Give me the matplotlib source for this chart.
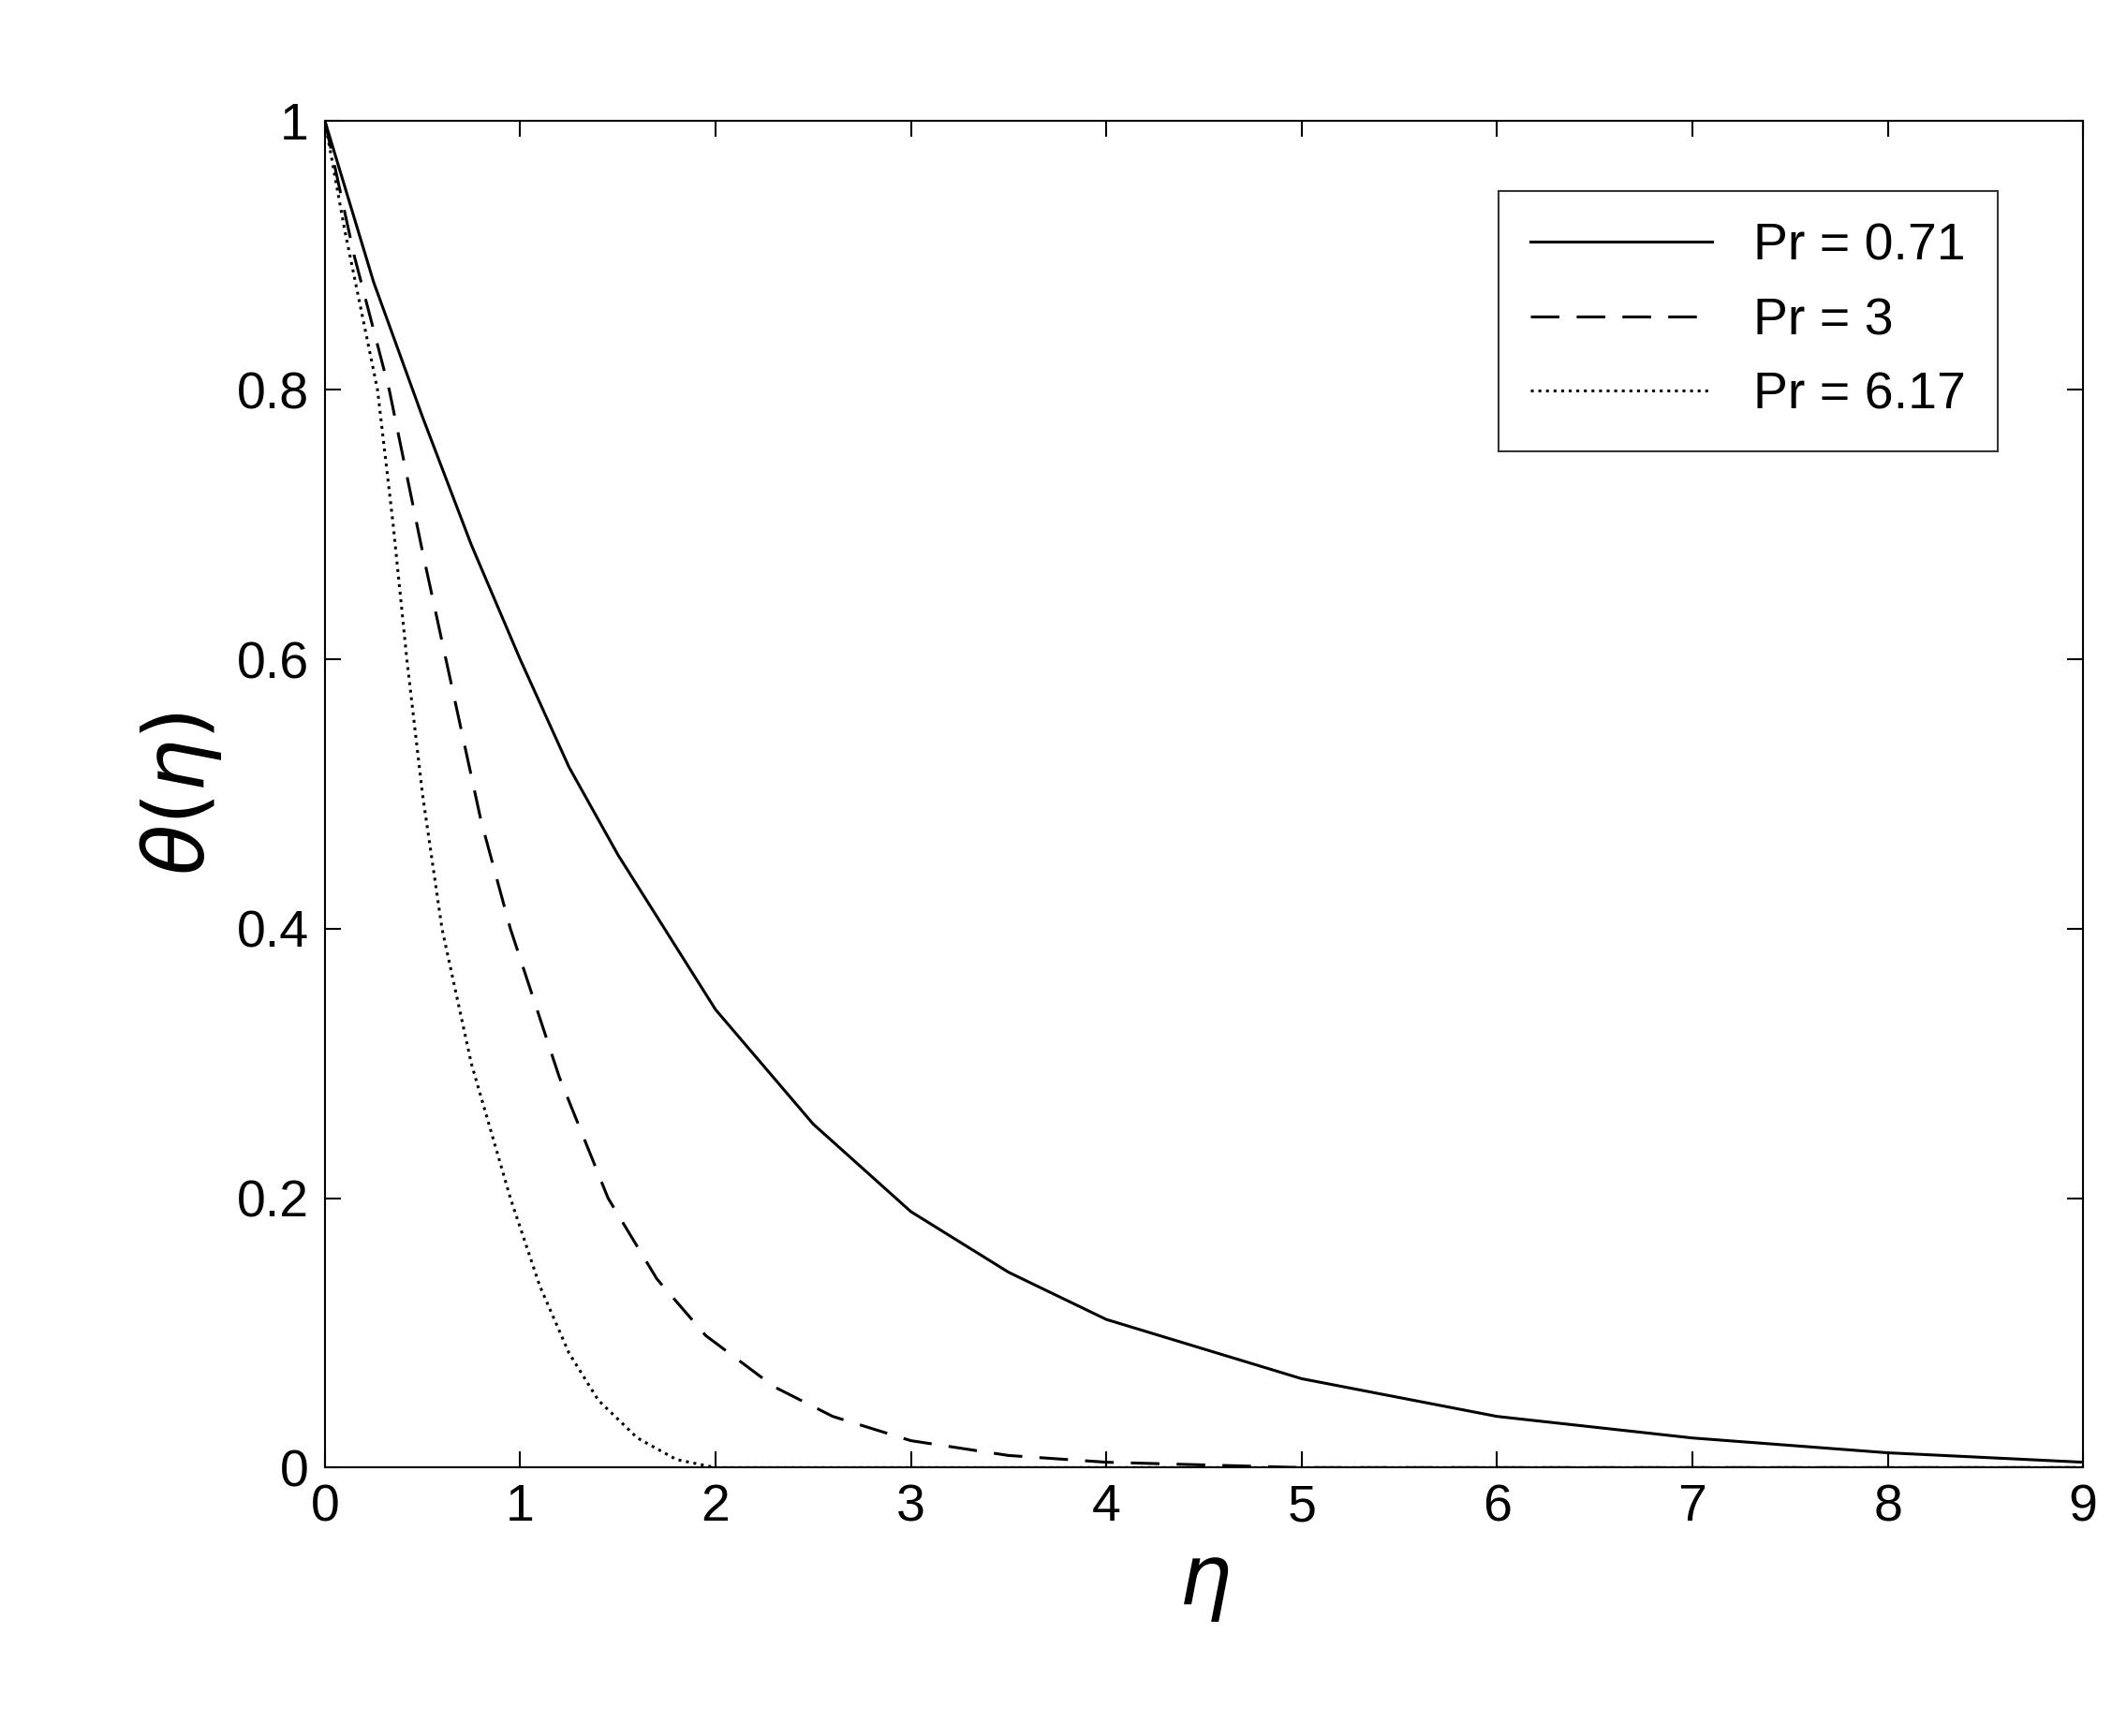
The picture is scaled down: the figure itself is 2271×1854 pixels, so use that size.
import matplotlib
matplotlib.use("Agg")
import matplotlib.pyplot as plt

x1 = [0, 0.25, 0.5, 0.75, 1, 1.25, 1.5, 2, 2.5, 3, 3.5, 4, 5, 6, 7, 8, 9]
y1 = [1, 0.88, 0.78, 0.685, 0.60, 0.52, 0.455, 0.34, 0.255, 0.19, 0.145, 0.11, 0.066, 0.038, 0.022, 0.011, 0.004]
x2 = [0, 0.15, 0.33, 0.5, 0.62, 0.8, 0.95, 1.2, 1.45, 1.7, 1.95, 2.3, 2.6, 3, 3.5, 4, 5, 9]
y2 = [1, 0.9, 0.8, 0.68, 0.6, 0.48, 0.4, 0.29, 0.2, 0.14, 0.098, 0.06, 0.038, 0.02, 0.009, 0.004, 0.0, 0.0]
x3 = [0, 0.1, 0.27, 0.35, 0.42, 0.5, 0.6, 0.75, 0.95, 1.1, 1.25, 1.4, 1.6, 1.8, 2.0, 9]
y3 = [1, 0.92, 0.8, 0.7, 0.6, 0.5, 0.4, 0.3, 0.2, 0.135, 0.085, 0.05, 0.022, 0.006, 0.0, 0.0]

plt.rcParams['font.family'] = ['Liberation Sans', 'DejaVu Sans']
fig = plt.figure(figsize=(22.71, 18.54), dpi=100)
ax = fig.add_axes([0.1527, 0.1546, 0.8267, 0.776])
ax.plot(x1, y1, 'k-', lw=2.2, label='Pr = 0.71')
ax.plot(x2, y2, 'k--', lw=2.2, dashes=(10, 6), label='Pr = 3')
ax.plot(x3, y3, 'k:', lw=2.2, label='Pr = 6.17')
ax.set_xlim(0, 9)
ax.set_ylim(0, 1)
ax.set_xticks(range(10))
ax.set_yticks([0, 0.2, 0.4, 0.6, 0.8, 1])
ax.set_yticklabels(['0', '0.2', '0.4', '0.6', '0.8', '1'])
ax.tick_params(labelsize=40, direction='in', length=12, width=1.5, top=True, right=True, pad=12)
for s in ax.spines.values():
    s.set_linewidth(1.5)
ax.set_xlabel(r'$\eta$', fontsize=64, labelpad=10)
ax.set_ylabel(r'$\theta(\eta)$', fontsize=64, labelpad=10)
leg = ax.legend(loc='upper right', fontsize=40, frameon=True, fancybox=False,
                edgecolor='black', handlelength=3.5, borderpad=0.6,
                bbox_to_anchor=(0.966, 0.967))
leg.get_frame().set_linewidth(1.5)
fig.savefig('out.png', dpi=100)
